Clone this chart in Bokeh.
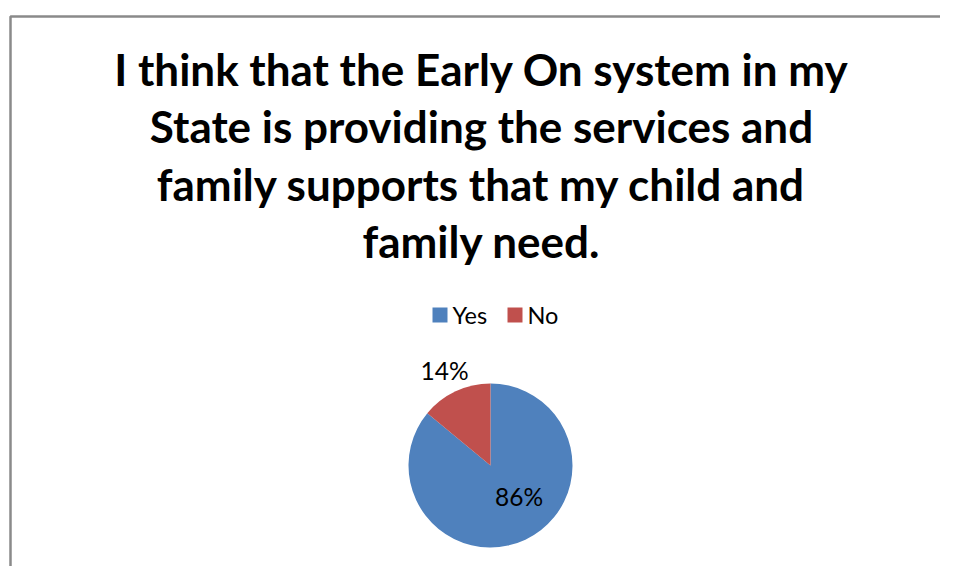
import math
from bokeh.plotting import figure
from bokeh.models import Range1d, ColumnDataSource
from bokeh.core.properties import value
from bokeh.embed import file_html
from bokeh.resources import INLINE

# ---- data ----
categories = ["Yes", "No"]
percentages = [86, 14]
colors = ["#4F81BD", "#C0504D"]
title_lines = [
    "I think that the Early On system in my",
    "State is providing the services and",
    "family supports that my child and",
    "family need.",
]

W, H = 940, 566
p = figure(width=W, height=H, output_backend="svg", toolbar_location=None,
           x_range=Range1d(0, W), y_range=Range1d(0, H), min_border=0)
p.axis.visible = False
p.grid.visible = False
p.outline_line_color = None
p.background_fill_color = "white"
p.border_fill_color = "white"

OFF = 0

def X(ix):
    return ix - OFF

def Y(iy):
    return H - (iy - OFF)

# chart-area border (top and left visible)
p.line(x=[X(10), X(10), W], y=[0, Y(16), Y(16)], line_color="#8a8a8a", line_width=2.5)

# title
title_base = 68
title_step = 57.5
p.text(x=[X(481)] * len(title_lines),
       y=[Y(title_base + i * title_step) for i in range(len(title_lines))],
       text=title_lines, text_align="center", text_baseline="alphabetic",
       text_font=value("Lato"), text_font_style="bold", text_font_size="44px",
       text_color="#000000")

# pie
total = sum(percentages)
cx, cy, r = X(490), Y(465), 82
starts, ends = [], []
cum = 0.0
for v in percentages:
    end = math.radians(90 - cum / total * 360)
    cum += v
    start = math.radians(90 - cum / total * 360)
    starts.append(start)
    ends.append(end)
src = ColumnDataSource(dict(start=starts, end=ends, color=colors, cat=categories))
p.wedge(x=cx, y=cy, radius=r, start_angle="start", end_angle="end",
        direction="anticlock", fill_color="color", line_color=None, source=src)

# legend
leg_sq_x = [X(439.5), X(514.5)]
leg_txt_x = [X(452), X(527)]
leg_y = Y(314.5)
p.scatter(x=leg_sq_x, y=[leg_y] * 2, marker="square", size=15,
          fill_color=colors, line_color=None)
p.text(x=leg_txt_x, y=[Y(314)] * 2, text=categories, text_align="left",
       text_baseline="alphabetic", text_font=value("Lato"), text_font_size="23.5px",
       text_color="#000000")

# data labels
lab_x = [X(518.5), X(444)]
lab_y = [Y(496), Y(370)]
p.text(x=lab_x, y=lab_y, text=[f"{v}%" for v in percentages], text_align="center",
       text_baseline="alphabetic", text_font=value("Lato"), text_font_size="24.5px",
       text_color="#000000")

open("out.html", "w").write(file_html(p, INLINE))
